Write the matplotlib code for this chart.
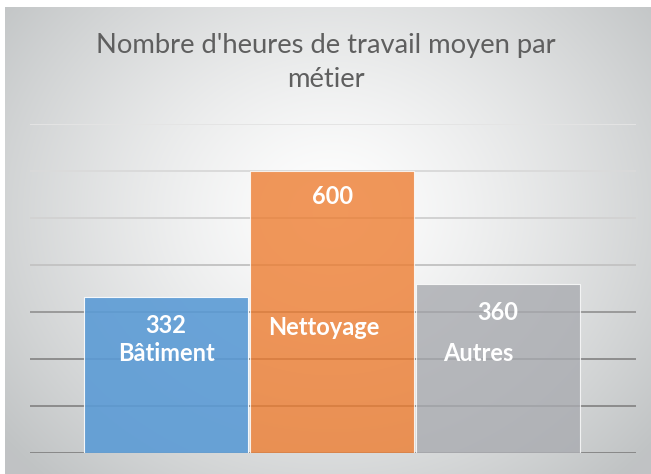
import numpy as np
import matplotlib
matplotlib.use("Agg")
import matplotlib.pyplot as plt

# data
metiers = ["Bâtiment", "Nettoyage", "Autres"]
heures = [332, 600, 360]
couleurs = ["#5b9bd5", "#ed7d31", "#a9abb0"]

W, H = 651, 474
fig = plt.figure(figsize=(W / 100, H / 100), dpi=100)
fig.patch.set_facecolor("white")

# radial gradient background (Excel style)
bg = fig.add_axes([5 / W, 0, 1 - 5 / W, 1 - 7 / H])
yy, xx = np.mgrid[0:467, 0:646]
d = np.sqrt((xx - 325) ** 2 + ((yy - 205) * 1.15) ** 2)
t = np.clip(d / 420, 0, 1) ** 1.3
c0 = np.array([1.0, 1.0, 1.0])
c1 = np.array([0xc0, 0xc3, 0xc4]) / 255
img = c0[None, None, :] * (1 - t[..., None]) + c1[None, None, :] * t[..., None]
bg.imshow(img, aspect="auto", interpolation="bilinear")
bg.axis("off")

ax = fig.add_axes([30 / W, 21 / H, 606 / W, 329 / H])
ax.set_facecolor("none")
pos = [-1, 0, 1]
alphas = [0.9, 0.8, 0.8]
for p, h, c, a in zip(pos, heures, couleurs, alphas):
    ax.bar(p, h, width=0.988, color=c, alpha=a, edgecolor=(1, 1, 1, 0.6),
           linewidth=0.8, zorder=3)

ax.set_xlim(-1.82, 1.83)
ax.set_ylim(0, 700)
ax.set_yticks(range(0, 701, 100))
ax.set_xticks([])
ax.tick_params(left=False, labelleft=False)
for s in ax.spines.values():
    s.set_visible(False)
ax.grid(axis="y", zorder=0)
grid_cols = ["#888888", "#8c8c8c", "#8e8e8e", "#9a9a9a", "#c4c4c4",
             "#d2d2d2", "#dadada", "#e4e4e4"]
for gl, gc in zip(ax.get_ygridlines(), grid_cols):
    gl.set_color(gc)
    gl.set_linewidth(1.4)

lab = dict(color="white", fontsize=17, fontweight="bold", family=["Lato", "DejaVu Sans"],
           ha="center", va="center", zorder=5)
ax.text(-1, 272, str(heures[0]), **lab)
ax.text(-1, 212, metiers[0], **lab)
ax.text(0, 545, str(heures[1]), **lab)
ax.text(-0.05, 268, metiers[1], **lab)
ax.text(1, 300, str(heures[2]), **lab)
ax.text(0.88, 212, metiers[2], **lab)

titre = dict(ha="center", va="center", fontsize=19.7, color="#5f5f5f",
             family=["Lato", "DejaVu Sans"], fontweight="normal")
fig.text(0.5, 1 - 45 / H, "Nombre d'heures de travail moyen par", **titre)
fig.text(0.5, 1 - 80 / H, "métier", **titre)

fig.savefig("out.png", dpi=100)
